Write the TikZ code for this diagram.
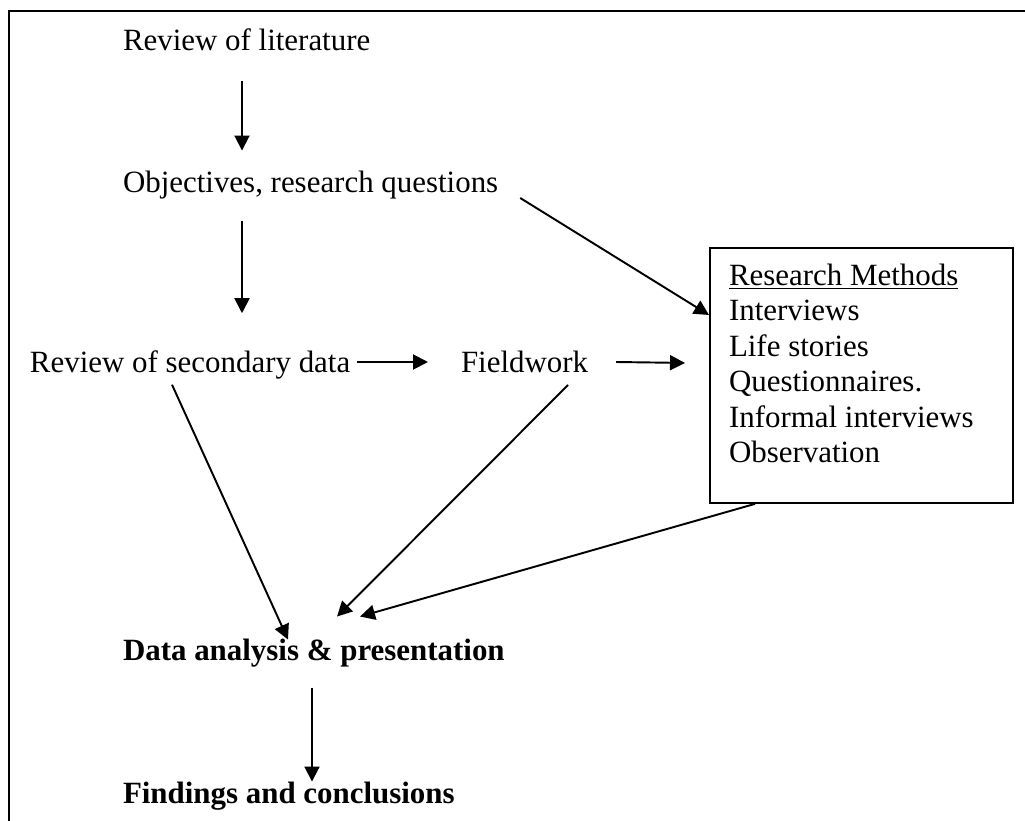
\documentclass[tikz,border=0pt]{standalone}
\usepackage{fontspec}
\setmainfont{Liberation Serif}
\usetikzlibrary{arrows.meta}

\begin{document}
\begin{tikzpicture}[x=0.02cm,y=-0.02cm,
  lbl/.style={anchor=base west,inner sep=0pt,outer sep=0pt,font=\fontsize{17.6}{20.2}\selectfont},
  bold/.style={lbl,font=\fontsize{17.6}{20.2}\selectfont\bfseries},
  arr/.style={-{Triangle[length=0.3cm,width=0.3cm]},line width=1.1pt},
  methodbox/.style={draw,line width=1.1pt,anchor=north west,minimum width=6.06cm,minimum height=5.1cm,inner sep=0pt}]
\useasboundingbox (0,0) rectangle (1025,821);
% frame (only left and top edges show)
\draw[line width=1.1pt] (9,821) -- (9,11) -- (1025,11);
\node[lbl] (lit) at (123,51) {Review of literature};
\node[lbl] (obj) at (123,193) {Objectives, research questions};
\node[lbl] (sec) at (30,372) {Review of secondary data};
\node[lbl] (field) at (461,372) {Fieldwork};
\node[methodbox] (box) at (709,247) {};
\node[lbl,anchor=north west,align=left] (list) at (729,264)
  {\underline{Research Methods}\\Interviews\\Life stories\\Questionnaires.\\Informal interviews\\Observation};
\node[bold] (data) at (123,660) {Data analysis \& presentation};
\node[bold] (find) at (123,803) {Findings and conclusions};
% arrows
\draw[arr] ([shift={(119,30)}]lit.south west) -- ([shift={(119,-21)}]obj.north west);
\draw[arr] ([shift={(119,21)}]obj.south west) -- ([shift={(212,-37)}]sec.north west);
\draw[arr] ([shift={(22,5)}]obj.base east) -- ([shift={(0,68)}]box.north west);
\draw[arr] ([shift={(7,-10)}]sec.base east) -- ([shift={(-33,-10)}]field.base west);
\draw[arr] ([shift={(28,-10)}]field.base east) -- ([shift={(-24,-12.5)}]box.west);
\draw[arr] ([shift={(142,6)}]sec.south west) -- ([shift={(165,1)}]data.north west);
\draw[arr] ([shift={(107,13)}]field.base west) -- ([shift={(214,-22)}]data.north west);
\draw[arr] ([shift={(46,0)}]box.south west) -- ([shift={(237,-22)}]data.north west);
\draw[arr] ([shift={(189,21)}]data.south west) -- ([shift={(189,0)}]find.north west);
\end{tikzpicture}
\end{document}
